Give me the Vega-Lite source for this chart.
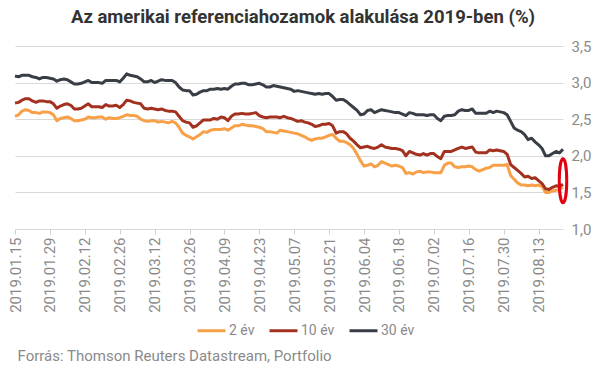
{
"$schema": "https://vega.github.io/schema/vega-lite/v6.json",
"width": 548, "height": 183,
"autosize": {"type": "none"},
"padding": {"left": 15, "top": 46, "right": 38, "bottom": 143},
"background": "white",
"title": {"text": "Az amerikai referenciahozamok alakulása 2019-ben (%)", "font": "Roboto, sans-serif", "fontSize": 18.5, "fontWeight": "bold", "color": "#333333", "anchor": "middle", "frame": "group", "dx": 14, "offset": 13},
"config": {"view": {"stroke": null}},
"encoding": {
"x": {"field": "d", "type": "ordinal", "sort": null, "scale": {"type": "point", "padding": 0},
 "axis": {"values": ["2019.01.15","2019.01.29","2019.02.12","2019.02.26","2019.03.12","2019.03.26","2019.04.09","2019.04.23","2019.05.07","2019.05.21","2019.06.04","2019.06.18","2019.07.02","2019.07.16","2019.07.30","2019.08.13"],
  "labelAngle": -90, "labelFont": "Roboto, sans-serif", "labelFontSize": 15, "labelColor": "#8a8a8a", "labelPadding": 3, "labelOverlap": false,
  "ticks": true, "tickSize": 5, "tickColor": "#d0d0d0", "domain": false, "grid": false,
  "title": "Forrás: Thomson Reuters Datastream, Portfolio", "titleAnchor": "start", "titleAlign": "left", "titleBaseline": "middle", "titleY": 126, "titleX": 2,
  "titleFont": "Roboto, sans-serif", "titleFontSize": 15, "titleFontWeight": "normal", "titleColor": "#8a8a8a"}},
"y": {"field": "v", "type": "quantitative", "scale": {"domain": [1, 3.5], "nice": false, "zero": false},
 "axis": {"orient": "right", "values": [1, 1.5, 2, 2.5, 3, 3.5], "tickCount": 6, "labelOverlap": false, "labelExpr": "replace(format(datum.value, '.1f'), '.', ',')",
  "labelFont": "Roboto, sans-serif", "labelFontSize": 15, "labelColor": "#8a8a8a", "labelPadding": 8,
  "ticks": false, "domain": false, "grid": true, "gridColor": "#d9d9d9", "gridWidth": 1, "title": null}}
},
"layer": [
{"data": {"values": [
{"d":"2019.01.15","s":"2 év","v":2.54},{"d":"2019.01.16","s":"2 év","v":2.56},{"d":"2019.01.17","s":"2 év","v":2.61},{"d":"2019.01.18","s":"2 év","v":2.63},{"d":"2019.01.21","s":"2 év","v":2.62},{"d":"2019.01.22","s":"2 év","v":2.59},{"d":"2019.01.23","s":"2 év","v":2.59},{"d":"2019.01.24","s":"2 év","v":2.58},{"d":"2019.01.25","s":"2 év","v":2.60},{"d":"2019.01.28","s":"2 év","v":2.60},
{"d":"2019.01.29","s":"2 év","v":2.59},{"d":"2019.01.30","s":"2 év","v":2.56},{"d":"2019.01.31","s":"2 év","v":2.48},{"d":"2019.02.01","s":"2 év","v":2.51},{"d":"2019.02.04","s":"2 év","v":2.52},{"d":"2019.02.05","s":"2 év","v":2.53},{"d":"2019.02.06","s":"2 év","v":2.51},{"d":"2019.02.07","s":"2 év","v":2.48},{"d":"2019.02.08","s":"2 év","v":2.48},{"d":"2019.02.11","s":"2 év","v":2.49},
{"d":"2019.02.12","s":"2 év","v":2.50},{"d":"2019.02.13","s":"2 év","v":2.53},{"d":"2019.02.14","s":"2 év","v":2.52},{"d":"2019.02.15","s":"2 év","v":2.52},{"d":"2019.02.18","s":"2 év","v":2.53},{"d":"2019.02.19","s":"2 év","v":2.53},{"d":"2019.02.20","s":"2 év","v":2.50},{"d":"2019.02.21","s":"2 év","v":2.52},{"d":"2019.02.22","s":"2 év","v":2.51},{"d":"2019.02.25","s":"2 év","v":2.51},
{"d":"2019.02.26","s":"2 év","v":2.52},{"d":"2019.02.27","s":"2 év","v":2.54},{"d":"2019.02.28","s":"2 év","v":2.56},{"d":"2019.03.01","s":"2 év","v":2.55},{"d":"2019.03.04","s":"2 év","v":2.55},{"d":"2019.03.05","s":"2 év","v":2.54},{"d":"2019.03.06","s":"2 év","v":2.50},{"d":"2019.03.07","s":"2 év","v":2.48},{"d":"2019.03.08","s":"2 év","v":2.47},{"d":"2019.03.11","s":"2 év","v":2.48},
{"d":"2019.03.12","s":"2 év","v":2.48},{"d":"2019.03.13","s":"2 év","v":2.46},{"d":"2019.03.14","s":"2 év","v":2.47},{"d":"2019.03.15","s":"2 év","v":2.46},{"d":"2019.03.18","s":"2 év","v":2.45},{"d":"2019.03.19","s":"2 év","v":2.47},{"d":"2019.03.20","s":"2 év","v":2.45},{"d":"2019.03.21","s":"2 év","v":2.39},{"d":"2019.03.22","s":"2 év","v":2.31},{"d":"2019.03.25","s":"2 év","v":2.28},
{"d":"2019.03.26","s":"2 év","v":2.26},{"d":"2019.03.27","s":"2 év","v":2.23},{"d":"2019.03.28","s":"2 év","v":2.26},{"d":"2019.03.29","s":"2 év","v":2.29},{"d":"2019.04.01","s":"2 év","v":2.33},{"d":"2019.04.02","s":"2 év","v":2.32},{"d":"2019.04.03","s":"2 év","v":2.35},{"d":"2019.04.04","s":"2 év","v":2.36},{"d":"2019.04.05","s":"2 év","v":2.36},{"d":"2019.04.08","s":"2 év","v":2.36},
{"d":"2019.04.09","s":"2 év","v":2.37},{"d":"2019.04.10","s":"2 év","v":2.35},{"d":"2019.04.11","s":"2 év","v":2.38},{"d":"2019.04.12","s":"2 év","v":2.41},{"d":"2019.04.15","s":"2 év","v":2.41},{"d":"2019.04.16","s":"2 év","v":2.43},{"d":"2019.04.17","s":"2 év","v":2.42},{"d":"2019.04.18","s":"2 év","v":2.41},{"d":"2019.04.19","s":"2 év","v":2.41},{"d":"2019.04.22","s":"2 év","v":2.40},
{"d":"2019.04.23","s":"2 év","v":2.39},{"d":"2019.04.24","s":"2 év","v":2.37},{"d":"2019.04.25","s":"2 év","v":2.33},{"d":"2019.04.26","s":"2 év","v":2.33},{"d":"2019.04.29","s":"2 év","v":2.32},{"d":"2019.04.30","s":"2 év","v":2.31},{"d":"2019.05.01","s":"2 év","v":2.35},{"d":"2019.05.02","s":"2 év","v":2.34},{"d":"2019.05.03","s":"2 év","v":2.33},{"d":"2019.05.06","s":"2 év","v":2.32},
{"d":"2019.05.07","s":"2 év","v":2.31},{"d":"2019.05.08","s":"2 év","v":2.30},{"d":"2019.05.09","s":"2 év","v":2.28},{"d":"2019.05.10","s":"2 év","v":2.26},{"d":"2019.05.13","s":"2 év","v":2.23},{"d":"2019.05.14","s":"2 év","v":2.21},{"d":"2019.05.15","s":"2 év","v":2.23},{"d":"2019.05.16","s":"2 év","v":2.24},{"d":"2019.05.17","s":"2 év","v":2.24},{"d":"2019.05.20","s":"2 év","v":2.26},
{"d":"2019.05.21","s":"2 év","v":2.28},{"d":"2019.05.22","s":"2 év","v":2.29},{"d":"2019.05.23","s":"2 év","v":2.24},{"d":"2019.05.24","s":"2 év","v":2.20},{"d":"2019.05.27","s":"2 év","v":2.20},{"d":"2019.05.28","s":"2 év","v":2.18},{"d":"2019.05.29","s":"2 év","v":2.15},{"d":"2019.05.30","s":"2 év","v":2.10},{"d":"2019.05.31","s":"2 év","v":2.02},{"d":"2019.06.03","s":"2 év","v":1.93},
{"d":"2019.06.04","s":"2 év","v":1.86},{"d":"2019.06.05","s":"2 év","v":1.87},{"d":"2019.06.06","s":"2 év","v":1.89},{"d":"2019.06.07","s":"2 év","v":1.85},{"d":"2019.06.10","s":"2 év","v":1.87},{"d":"2019.06.11","s":"2 év","v":1.92},{"d":"2019.06.12","s":"2 év","v":1.90},{"d":"2019.06.13","s":"2 év","v":1.88},{"d":"2019.06.14","s":"2 év","v":1.86},{"d":"2019.06.17","s":"2 év","v":1.87},
{"d":"2019.06.18","s":"2 év","v":1.86},{"d":"2019.06.19","s":"2 év","v":1.84},{"d":"2019.06.20","s":"2 év","v":1.76},{"d":"2019.06.21","s":"2 év","v":1.77},{"d":"2019.06.24","s":"2 év","v":1.75},{"d":"2019.06.25","s":"2 év","v":1.78},{"d":"2019.06.26","s":"2 év","v":1.79},{"d":"2019.06.27","s":"2 év","v":1.77},{"d":"2019.06.28","s":"2 év","v":1.78},{"d":"2019.07.01","s":"2 év","v":1.78},
{"d":"2019.07.02","s":"2 év","v":1.77},{"d":"2019.07.03","s":"2 év","v":1.77},{"d":"2019.07.04","s":"2 év","v":1.77},{"d":"2019.07.05","s":"2 év","v":1.87},{"d":"2019.07.08","s":"2 év","v":1.90},{"d":"2019.07.09","s":"2 év","v":1.90},{"d":"2019.07.10","s":"2 év","v":1.85},{"d":"2019.07.11","s":"2 év","v":1.84},{"d":"2019.07.12","s":"2 év","v":1.85},{"d":"2019.07.15","s":"2 év","v":1.85},
{"d":"2019.07.16","s":"2 év","v":1.86},{"d":"2019.07.17","s":"2 év","v":1.85},{"d":"2019.07.18","s":"2 év","v":1.81},{"d":"2019.07.19","s":"2 év","v":1.79},{"d":"2019.07.22","s":"2 év","v":1.81},{"d":"2019.07.23","s":"2 év","v":1.83},{"d":"2019.07.24","s":"2 év","v":1.84},{"d":"2019.07.25","s":"2 év","v":1.87},{"d":"2019.07.26","s":"2 év","v":1.87},{"d":"2019.07.29","s":"2 év","v":1.87},
{"d":"2019.07.30","s":"2 év","v":1.87},{"d":"2019.07.31","s":"2 év","v":1.88},{"d":"2019.08.01","s":"2 év","v":1.73},{"d":"2019.08.02","s":"2 év","v":1.68},{"d":"2019.08.05","s":"2 év","v":1.63},{"d":"2019.08.06","s":"2 év","v":1.60},{"d":"2019.08.07","s":"2 év","v":1.60},{"d":"2019.08.08","s":"2 év","v":1.59},{"d":"2019.08.09","s":"2 év","v":1.60},{"d":"2019.08.12","s":"2 év","v":1.59},
{"d":"2019.08.13","s":"2 év","v":1.60},{"d":"2019.08.14","s":"2 év","v":1.58},{"d":"2019.08.15","s":"2 év","v":1.50},{"d":"2019.08.16","s":"2 év","v":1.50},{"d":"2019.08.19","s":"2 év","v":1.52},{"d":"2019.08.20","s":"2 év","v":1.53},{"d":"2019.08.21","s":"2 év","v":1.54},{"d":"2019.08.22","s":"2 év","v":1.57},
{"d":"2019.01.15","s":"10 év","v":2.72},{"d":"2019.01.16","s":"10 év","v":2.73},{"d":"2019.01.17","s":"10 év","v":2.76},{"d":"2019.01.18","s":"10 év","v":2.78},{"d":"2019.01.21","s":"10 év","v":2.78},{"d":"2019.01.22","s":"10 év","v":2.75},{"d":"2019.01.23","s":"10 év","v":2.73},{"d":"2019.01.24","s":"10 év","v":2.75},{"d":"2019.01.25","s":"10 év","v":2.75},{"d":"2019.01.28","s":"10 év","v":2.74},
{"d":"2019.01.29","s":"10 év","v":2.74},{"d":"2019.01.30","s":"10 év","v":2.71},{"d":"2019.01.31","s":"10 év","v":2.65},{"d":"2019.02.01","s":"10 év","v":2.68},{"d":"2019.02.04","s":"10 év","v":2.70},{"d":"2019.02.05","s":"10 év","v":2.71},{"d":"2019.02.06","s":"10 év","v":2.69},{"d":"2019.02.07","s":"10 év","v":2.64},{"d":"2019.02.08","s":"10 év","v":2.64},{"d":"2019.02.11","s":"10 év","v":2.65},
{"d":"2019.02.12","s":"10 év","v":2.68},{"d":"2019.02.13","s":"10 év","v":2.71},{"d":"2019.02.14","s":"10 év","v":2.67},{"d":"2019.02.15","s":"10 év","v":2.67},{"d":"2019.02.18","s":"10 év","v":2.67},{"d":"2019.02.19","s":"10 év","v":2.66},{"d":"2019.02.20","s":"10 év","v":2.70},{"d":"2019.02.21","s":"10 év","v":2.68},{"d":"2019.02.22","s":"10 év","v":2.68},{"d":"2019.02.25","s":"10 év","v":2.69},
{"d":"2019.02.26","s":"10 év","v":2.66},{"d":"2019.02.27","s":"10 év","v":2.70},{"d":"2019.02.28","s":"10 év","v":2.76},{"d":"2019.03.01","s":"10 év","v":2.75},{"d":"2019.03.04","s":"10 év","v":2.73},{"d":"2019.03.05","s":"10 év","v":2.72},{"d":"2019.03.06","s":"10 év","v":2.71},{"d":"2019.03.07","s":"10 év","v":2.65},{"d":"2019.03.08","s":"10 év","v":2.64},{"d":"2019.03.11","s":"10 év","v":2.65},
{"d":"2019.03.12","s":"10 év","v":2.64},{"d":"2019.03.13","s":"10 év","v":2.63},{"d":"2019.03.14","s":"10 év","v":2.64},{"d":"2019.03.15","s":"10 év","v":2.62},{"d":"2019.03.18","s":"10 év","v":2.61},{"d":"2019.03.19","s":"10 év","v":2.61},{"d":"2019.03.20","s":"10 év","v":2.60},{"d":"2019.03.21","s":"10 év","v":2.54},{"d":"2019.03.22","s":"10 év","v":2.48},{"d":"2019.03.25","s":"10 év","v":2.46},
{"d":"2019.03.26","s":"10 év","v":2.45},{"d":"2019.03.27","s":"10 év","v":2.39},{"d":"2019.03.28","s":"10 év","v":2.41},{"d":"2019.03.29","s":"10 év","v":2.45},{"d":"2019.04.01","s":"10 év","v":2.49},{"d":"2019.04.02","s":"10 év","v":2.49},{"d":"2019.04.03","s":"10 év","v":2.49},{"d":"2019.04.04","s":"10 év","v":2.51},{"d":"2019.04.05","s":"10 év","v":2.50},{"d":"2019.04.08","s":"10 év","v":2.53},
{"d":"2019.04.09","s":"10 év","v":2.52},{"d":"2019.04.10","s":"10 év","v":2.48},{"d":"2019.04.11","s":"10 év","v":2.54},{"d":"2019.04.12","s":"10 év","v":2.57},{"d":"2019.04.15","s":"10 év","v":2.57},{"d":"2019.04.16","s":"10 év","v":2.58},{"d":"2019.04.17","s":"10 év","v":2.57},{"d":"2019.04.18","s":"10 év","v":2.57},{"d":"2019.04.19","s":"10 év","v":2.58},{"d":"2019.04.22","s":"10 év","v":2.59},
{"d":"2019.04.23","s":"10 év","v":2.55},{"d":"2019.04.24","s":"10 év","v":2.53},{"d":"2019.04.25","s":"10 év","v":2.52},{"d":"2019.04.26","s":"10 év","v":2.53},{"d":"2019.04.29","s":"10 év","v":2.53},{"d":"2019.04.30","s":"10 év","v":2.53},{"d":"2019.05.01","s":"10 év","v":2.52},{"d":"2019.05.02","s":"10 év","v":2.54},{"d":"2019.05.03","s":"10 év","v":2.52},{"d":"2019.05.06","s":"10 év","v":2.51},
{"d":"2019.05.07","s":"10 év","v":2.49},{"d":"2019.05.08","s":"10 év","v":2.47},{"d":"2019.05.09","s":"10 év","v":2.48},{"d":"2019.05.10","s":"10 év","v":2.46},{"d":"2019.05.13","s":"10 év","v":2.45},{"d":"2019.05.14","s":"10 év","v":2.43},{"d":"2019.05.15","s":"10 év","v":2.40},{"d":"2019.05.16","s":"10 év","v":2.41},{"d":"2019.05.17","s":"10 év","v":2.43},{"d":"2019.05.20","s":"10 év","v":2.43},
{"d":"2019.05.21","s":"10 év","v":2.44},{"d":"2019.05.22","s":"10 év","v":2.41},{"d":"2019.05.23","s":"10 év","v":2.31},{"d":"2019.05.24","s":"10 év","v":2.33},{"d":"2019.05.27","s":"10 év","v":2.33},{"d":"2019.05.28","s":"10 év","v":2.30},{"d":"2019.05.29","s":"10 év","v":2.24},{"d":"2019.05.30","s":"10 év","v":2.20},{"d":"2019.05.31","s":"10 év","v":2.15},{"d":"2019.06.03","s":"10 év","v":2.11},
{"d":"2019.06.04","s":"10 év","v":2.12},{"d":"2019.06.05","s":"10 év","v":2.13},{"d":"2019.06.06","s":"10 év","v":2.11},{"d":"2019.06.07","s":"10 év","v":2.10},{"d":"2019.06.10","s":"10 év","v":2.12},{"d":"2019.06.11","s":"10 év","v":2.15},{"d":"2019.06.12","s":"10 év","v":2.12},{"d":"2019.06.13","s":"10 év","v":2.11},{"d":"2019.06.14","s":"10 év","v":2.10},{"d":"2019.06.17","s":"10 év","v":2.10},
{"d":"2019.06.18","s":"10 év","v":2.09},{"d":"2019.06.19","s":"10 év","v":2.07},{"d":"2019.06.20","s":"10 év","v":2.00},{"d":"2019.06.21","s":"10 év","v":2.06},{"d":"2019.06.24","s":"10 év","v":2.04},{"d":"2019.06.25","s":"10 év","v":2.02},{"d":"2019.06.26","s":"10 év","v":2.01},{"d":"2019.06.27","s":"10 év","v":2.03},{"d":"2019.06.28","s":"10 év","v":2.01},{"d":"2019.07.01","s":"10 év","v":2.03},
{"d":"2019.07.02","s":"10 év","v":2.03},{"d":"2019.07.03","s":"10 év","v":1.99},{"d":"2019.07.04","s":"10 év","v":1.96},{"d":"2019.07.05","s":"10 év","v":2.06},{"d":"2019.07.08","s":"10 év","v":2.06},{"d":"2019.07.09","s":"10 év","v":2.06},{"d":"2019.07.10","s":"10 év","v":2.08},{"d":"2019.07.11","s":"10 év","v":2.10},{"d":"2019.07.12","s":"10 év","v":2.12},{"d":"2019.07.15","s":"10 év","v":2.10},
{"d":"2019.07.16","s":"10 év","v":2.11},{"d":"2019.07.17","s":"10 év","v":2.12},{"d":"2019.07.18","s":"10 év","v":2.05},{"d":"2019.07.19","s":"10 év","v":2.04},{"d":"2019.07.22","s":"10 év","v":2.04},{"d":"2019.07.23","s":"10 év","v":2.04},{"d":"2019.07.24","s":"10 év","v":2.08},{"d":"2019.07.25","s":"10 év","v":2.07},{"d":"2019.07.26","s":"10 év","v":2.08},{"d":"2019.07.29","s":"10 év","v":2.07},
{"d":"2019.07.30","s":"10 év","v":2.06},{"d":"2019.07.31","s":"10 év","v":2.02},{"d":"2019.08.01","s":"10 év","v":1.88},{"d":"2019.08.02","s":"10 év","v":1.84},{"d":"2019.08.05","s":"10 év","v":1.80},{"d":"2019.08.06","s":"10 év","v":1.76},{"d":"2019.08.07","s":"10 év","v":1.71},{"d":"2019.08.08","s":"10 év","v":1.72},{"d":"2019.08.09","s":"10 év","v":1.69},{"d":"2019.08.12","s":"10 év","v":1.70},
{"d":"2019.08.13","s":"10 év","v":1.66},{"d":"2019.08.14","s":"10 év","v":1.62},{"d":"2019.08.15","s":"10 év","v":1.55},{"d":"2019.08.16","s":"10 év","v":1.54},{"d":"2019.08.19","s":"10 év","v":1.57},{"d":"2019.08.20","s":"10 év","v":1.59},{"d":"2019.08.21","s":"10 év","v":1.58},{"d":"2019.08.22","s":"10 év","v":1.61},
{"d":"2019.01.15","s":"30 év","v":3.09},{"d":"2019.01.16","s":"30 év","v":3.08},{"d":"2019.01.17","s":"30 év","v":3.10},{"d":"2019.01.18","s":"30 év","v":3.10},{"d":"2019.01.21","s":"30 év","v":3.10},{"d":"2019.01.22","s":"30 év","v":3.08},{"d":"2019.01.23","s":"30 év","v":3.07},{"d":"2019.01.24","s":"30 év","v":3.05},{"d":"2019.01.25","s":"30 év","v":3.07},{"d":"2019.01.28","s":"30 év","v":3.07},
{"d":"2019.01.29","s":"30 év","v":3.06},{"d":"2019.01.30","s":"30 év","v":3.05},{"d":"2019.01.31","s":"30 év","v":3.02},{"d":"2019.02.01","s":"30 év","v":3.04},{"d":"2019.02.04","s":"30 év","v":3.05},{"d":"2019.02.05","s":"30 év","v":3.04},{"d":"2019.02.06","s":"30 év","v":3.01},{"d":"2019.02.07","s":"30 év","v":2.98},{"d":"2019.02.08","s":"30 év","v":2.98},{"d":"2019.02.11","s":"30 év","v":2.99},
{"d":"2019.02.12","s":"30 év","v":3.01},{"d":"2019.02.13","s":"30 év","v":3.03},{"d":"2019.02.14","s":"30 év","v":3.00},{"d":"2019.02.15","s":"30 év","v":3.00},{"d":"2019.02.18","s":"30 év","v":3.00},{"d":"2019.02.19","s":"30 év","v":2.99},{"d":"2019.02.20","s":"30 év","v":3.03},{"d":"2019.02.21","s":"30 év","v":3.03},{"d":"2019.02.22","s":"30 év","v":3.03},{"d":"2019.02.25","s":"30 év","v":3.03},
{"d":"2019.02.26","s":"30 év","v":3.01},{"d":"2019.02.27","s":"30 év","v":3.06},{"d":"2019.02.28","s":"30 év","v":3.12},{"d":"2019.03.01","s":"30 év","v":3.10},{"d":"2019.03.04","s":"30 év","v":3.09},{"d":"2019.03.05","s":"30 év","v":3.08},{"d":"2019.03.06","s":"30 év","v":3.05},{"d":"2019.03.07","s":"30 év","v":3.01},{"d":"2019.03.08","s":"30 év","v":3.01},{"d":"2019.03.11","s":"30 év","v":3.03},
{"d":"2019.03.12","s":"30 év","v":3.00},{"d":"2019.03.13","s":"30 év","v":3.02},{"d":"2019.03.14","s":"30 év","v":3.04},{"d":"2019.03.15","s":"30 év","v":3.03},{"d":"2019.03.18","s":"30 év","v":3.03},{"d":"2019.03.19","s":"30 év","v":3.03},{"d":"2019.03.20","s":"30 év","v":3.00},{"d":"2019.03.21","s":"30 év","v":2.94},{"d":"2019.03.22","s":"30 év","v":2.90},{"d":"2019.03.25","s":"30 év","v":2.89},
{"d":"2019.03.26","s":"30 év","v":2.89},{"d":"2019.03.27","s":"30 év","v":2.83},{"d":"2019.03.28","s":"30 év","v":2.84},{"d":"2019.03.29","s":"30 év","v":2.87},{"d":"2019.04.01","s":"30 év","v":2.89},{"d":"2019.04.02","s":"30 év","v":2.89},{"d":"2019.04.03","s":"30 év","v":2.91},{"d":"2019.04.04","s":"30 év","v":2.91},{"d":"2019.04.05","s":"30 év","v":2.92},{"d":"2019.04.08","s":"30 év","v":2.91},
{"d":"2019.04.09","s":"30 év","v":2.92},{"d":"2019.04.10","s":"30 év","v":2.91},{"d":"2019.04.11","s":"30 év","v":2.95},{"d":"2019.04.12","s":"30 év","v":2.98},{"d":"2019.04.15","s":"30 év","v":2.98},{"d":"2019.04.16","s":"30 év","v":2.99},{"d":"2019.04.17","s":"30 év","v":2.99},{"d":"2019.04.18","s":"30 év","v":2.97},{"d":"2019.04.19","s":"30 év","v":2.97},{"d":"2019.04.22","s":"30 év","v":2.98},
{"d":"2019.04.23","s":"30 év","v":2.99},{"d":"2019.04.24","s":"30 év","v":2.97},{"d":"2019.04.25","s":"30 év","v":2.94},{"d":"2019.04.26","s":"30 év","v":2.94},{"d":"2019.04.29","s":"30 év","v":2.96},{"d":"2019.04.30","s":"30 év","v":2.95},{"d":"2019.05.01","s":"30 év","v":2.94},{"d":"2019.05.02","s":"30 év","v":2.93},{"d":"2019.05.03","s":"30 év","v":2.92},{"d":"2019.05.06","s":"30 év","v":2.91},
{"d":"2019.05.07","s":"30 év","v":2.88},{"d":"2019.05.08","s":"30 év","v":2.89},{"d":"2019.05.09","s":"30 év","v":2.88},{"d":"2019.05.10","s":"30 év","v":2.87},{"d":"2019.05.13","s":"30 év","v":2.86},{"d":"2019.05.14","s":"30 év","v":2.85},{"d":"2019.05.15","s":"30 év","v":2.84},{"d":"2019.05.16","s":"30 év","v":2.85},{"d":"2019.05.17","s":"30 év","v":2.84},{"d":"2019.05.20","s":"30 év","v":2.85},
{"d":"2019.05.21","s":"30 év","v":2.85},{"d":"2019.05.22","s":"30 év","v":2.81},{"d":"2019.05.23","s":"30 év","v":2.76},{"d":"2019.05.24","s":"30 év","v":2.77},{"d":"2019.05.27","s":"30 év","v":2.77},{"d":"2019.05.28","s":"30 év","v":2.74},{"d":"2019.05.29","s":"30 év","v":2.70},{"d":"2019.05.30","s":"30 év","v":2.66},{"d":"2019.05.31","s":"30 év","v":2.62},{"d":"2019.06.03","s":"30 év","v":2.56},
{"d":"2019.06.04","s":"30 év","v":2.57},{"d":"2019.06.05","s":"30 év","v":2.62},{"d":"2019.06.06","s":"30 év","v":2.63},{"d":"2019.06.07","s":"30 év","v":2.59},{"d":"2019.06.10","s":"30 év","v":2.61},{"d":"2019.06.11","s":"30 év","v":2.63},{"d":"2019.06.12","s":"30 év","v":2.62},{"d":"2019.06.13","s":"30 év","v":2.61},{"d":"2019.06.14","s":"30 év","v":2.60},{"d":"2019.06.17","s":"30 év","v":2.59},
{"d":"2019.06.18","s":"30 év","v":2.59},{"d":"2019.06.19","s":"30 év","v":2.57},{"d":"2019.06.20","s":"30 év","v":2.55},{"d":"2019.06.21","s":"30 év","v":2.59},{"d":"2019.06.24","s":"30 év","v":2.58},{"d":"2019.06.25","s":"30 év","v":2.56},{"d":"2019.06.26","s":"30 év","v":2.56},{"d":"2019.06.27","s":"30 év","v":2.56},{"d":"2019.06.28","s":"30 év","v":2.55},{"d":"2019.07.01","s":"30 év","v":2.56},
{"d":"2019.07.02","s":"30 év","v":2.56},{"d":"2019.07.03","s":"30 év","v":2.51},{"d":"2019.07.04","s":"30 év","v":2.48},{"d":"2019.07.05","s":"30 év","v":2.54},{"d":"2019.07.08","s":"30 év","v":2.55},{"d":"2019.07.09","s":"30 év","v":2.55},{"d":"2019.07.10","s":"30 év","v":2.56},{"d":"2019.07.11","s":"30 év","v":2.61},{"d":"2019.07.12","s":"30 év","v":2.63},{"d":"2019.07.15","s":"30 év","v":2.62},
{"d":"2019.07.16","s":"30 év","v":2.62},{"d":"2019.07.17","s":"30 év","v":2.64},{"d":"2019.07.18","s":"30 év","v":2.58},{"d":"2019.07.19","s":"30 év","v":2.58},{"d":"2019.07.22","s":"30 év","v":2.58},{"d":"2019.07.23","s":"30 év","v":2.58},{"d":"2019.07.24","s":"30 év","v":2.61},{"d":"2019.07.25","s":"30 év","v":2.59},{"d":"2019.07.26","s":"30 év","v":2.61},{"d":"2019.07.29","s":"30 év","v":2.60},
{"d":"2019.07.30","s":"30 év","v":2.59},{"d":"2019.07.31","s":"30 év","v":2.56},{"d":"2019.08.01","s":"30 év","v":2.47},{"d":"2019.08.02","s":"30 év","v":2.38},{"d":"2019.08.05","s":"30 év","v":2.35},{"d":"2019.08.06","s":"30 év","v":2.33},{"d":"2019.08.07","s":"30 év","v":2.29},{"d":"2019.08.08","s":"30 év","v":2.22},{"d":"2019.08.09","s":"30 év","v":2.24},{"d":"2019.08.12","s":"30 év","v":2.19},
{"d":"2019.08.13","s":"30 év","v":2.15},{"d":"2019.08.14","s":"30 év","v":2.10},{"d":"2019.08.15","s":"30 év","v":2.00},{"d":"2019.08.16","s":"30 év","v":2.00},{"d":"2019.08.19","s":"30 év","v":2.03},{"d":"2019.08.20","s":"30 év","v":2.06},{"d":"2019.08.21","s":"30 év","v":2.04},{"d":"2019.08.22","s":"30 év","v":2.09}
]},
"mark": {"type": "line", "strokeWidth": 3, "strokeJoin": "round"},
"encoding": {
"color": {"field": "s", "type": "nominal", "sort": ["2 év", "10 év", "30 év"],
 "scale": {"domain": ["2 év", "10 év", "30 év"], "range": ["#F8A048", "#A2321F", "#393E46"]},
 "legend": {"orient": "none", "legendX": 181, "legendY": 269, "direction": "horizontal", "title": null,
  "symbolType": "stroke", "symbolSize": 784, "symbolStrokeWidth": 3, "labelFont": "Roboto, sans-serif", "labelFontSize": 14, "labelColor": "#8a8a8a", "labelOffset": 2, "columnPadding": 8}}
}},
{"data": {"values": [{"d": "2019.08.22", "v": 1.66}]},
"mark": {"type": "point", "shape": "M0,-1A0.17,1,0,1,1,0,1A0.17,1,0,1,1,0,-1Z", "size": 1936, "filled": false, "stroke": "#E3000F", "strokeWidth": 3, "opacity": 1},
"encoding": {}}
]
}
